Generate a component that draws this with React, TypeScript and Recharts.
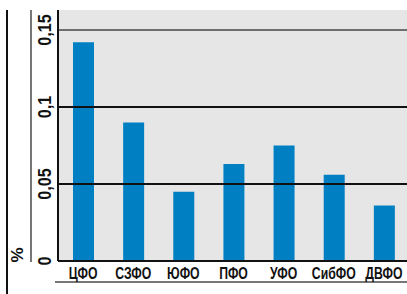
import React from 'react';
import { BarChart, Bar, XAxis, YAxis, CartesianGrid, ReferenceLine, Customized } from 'recharts';

const categories = ['ЦФО', 'СЗФО', 'ЮФО', 'ПФО', 'УФО', 'СибФО', 'ДВФО'];
const values = [0.142, 0.090, 0.045, 0.063, 0.075, 0.056, 0.036];
const yTicks = [0, 0.05, 0.1, 0.15];
const yLabels = ['0', '0,05', '0,1', '0,15'];
const unitLabel = '%';

const data = categories.map((c, i) => ({ name: c, value: values[i] }));

const FONT = '"Liberation Sans", Arial, sans-serif';

const YTick = (props: any) => {
  const { y, payload } = props;
  const idx = yTicks.indexOf(payload.value);
  const label = idx >= 0 ? yLabels[idx] : String(payload.value);
  const tx = 45;
  return (
    <g transform={`translate(${tx}, ${y}) rotate(-90) scale(0.9, 1)`}>
      <text
        x={0}
        y={0}
        textAnchor="middle"
        dominantBaseline="central"
        fontFamily={FONT}
        fontWeight="bold"
        fontSize={18}
        fill="#111"
      >
        {label}
      </text>
    </g>
  );
};

const XTick = (props: any) => {
  const { x, y, payload } = props;
  return (
    <g transform={`translate(${x}, ${y + 16}) scale(0.72, 1)`}>
      <text x={0} y={0} textAnchor="middle" fontFamily={FONT} fontWeight="bold" fontSize={17} fill="#111">
        {payload.value}
      </text>
    </g>
  );
};

const Decorations = () => (
  <g>
    <line x1={7} y1={10} x2={7} y2={294} stroke="#111" strokeWidth={2} />
    <line x1={31} y1={10} x2={31} y2={262} stroke="#777" strokeWidth={2} />
    <line x1={55} y1={282} x2={409} y2={282} stroke="#777" strokeWidth={2} />
    <g transform="translate(17, 255) rotate(-90)">
      <text
        x={0}
        y={0}
        textAnchor="middle"
        dominantBaseline="central"
        fontFamily={FONT}
        fontWeight="bold"
        fontSize={17}
        fill="#111"
      >
        {unitLabel}
      </text>
    </g>
  </g>
);

export default function App() {
  return (
    <div style={{ position: 'absolute', left: 0, top: 0, width: 407, height: 294, overflow: 'hidden', background: '#fff' }}>
      <BarChart width={409} height={294} data={data} margin={{ top: 10, right: 0, bottom: 0, left: 0 }} barCategoryGap={0}>
        <CartesianGrid horizontal={false} vertical={false} fill="#e6e6e6" fillOpacity={1} />
        <ReferenceLine y={0.15} stroke="#6e6e6e" strokeWidth={2} />
        <ReferenceLine y={0.1} stroke="#111" strokeWidth={2} />
        <ReferenceLine y={0.05} stroke="#111" strokeWidth={2} />
        <XAxis
          dataKey="name"
          height={33}
          axisLine={{ stroke: '#111', strokeWidth: 2 }}
          tickLine={false}
          tickSize={0}
          tick={<XTick />}
          interval={0}
        />
        <YAxis
          width={58}
          domain={[0, 0.163]}
          ticks={yTicks}
          axisLine={{ stroke: '#111', strokeWidth: 2 }}
          tickLine={false}
          tick={<YTick />}
          interval={0}
          allowDataOverflow
        />
        <Bar dataKey="value" fill="#0080c3" barSize={21} isAnimationActive={false} />
        <Customized component={<Decorations />} />
      </BarChart>
    </div>
  );
}
